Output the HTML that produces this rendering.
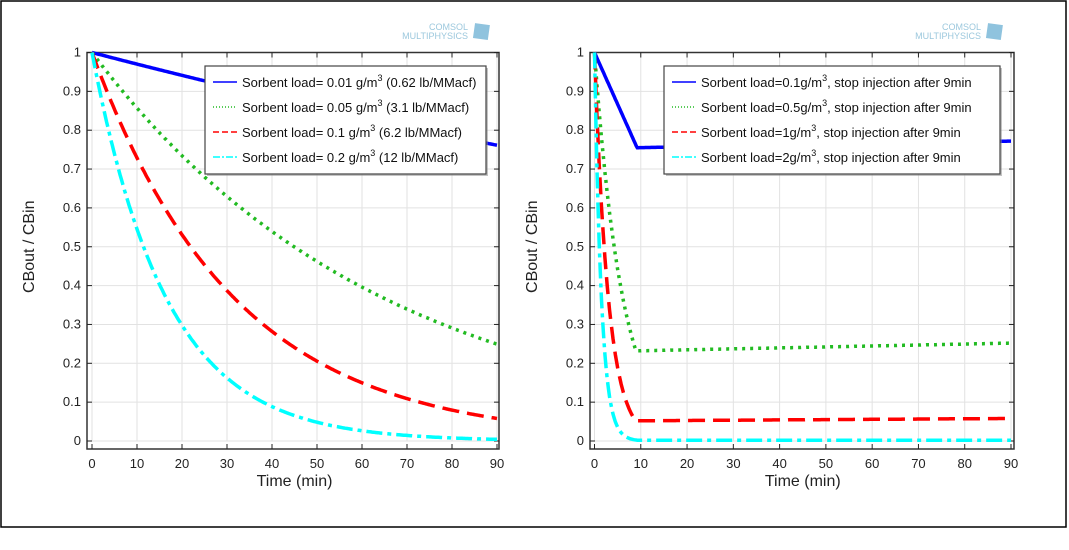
<!DOCTYPE html>
<html><head><meta charset="utf-8"><style>
html,body{margin:0;padding:0;background:#fff;}
svg{display:block;font-family:"Liberation Sans","DejaVu Sans",sans-serif;}
</style></head><body>
<svg id="s" width="1069" height="550" xmlns="http://www.w3.org/2000/svg">
<rect x="1" y="1" width="1065" height="526" fill="#fff" stroke="#000" stroke-width="1.5"/>
<g id="g"></g>
</svg>
<script>
var NS="http://www.w3.org/2000/svg",G=document.getElementById('g');
function el(t,a,txt){var e=document.createElementNS(NS,t);for(var k in a)e.setAttribute(k,a[k]);if(txt!==undefined)e.textContent=txt;G.appendChild(e);return e;}
var Y0=441,YS=388.5;
function plot(x0,x90,fL,fR,curves,leg,lx,lw){
  var sx=(x90-x0)/90;
  function X(t){return x0+t*sx;} function Y(v){return Y0-v*YS;}
  for(var i=0;i<=9;i++){el('line',{x1:X(i*10),x2:X(i*10),y1:Y(1),y2:Y0,stroke:'#e2e2e2','stroke-width':1});}
  for(var i=0;i<=10;i++){el('line',{x1:X(0)-4,x2:x90+3,y1:Y(i/10),y2:Y(i/10),stroke:'#e2e2e2','stroke-width':1});}
  el('rect',{x:fL,y:Y(1),width:fR-fL,height:Y0+8-Y(1),fill:'none',stroke:'#333','stroke-width':1.5});
  for(var i=0;i<=9;i++){var x=X(i*10);el('line',{x1:x,x2:x,y1:Y(1),y2:Y(1)+5,stroke:'#222'});el('line',{x1:x,x2:x,y1:Y0+8,y2:Y0+3,stroke:'#222'});
    el('text',{x:x,y:Y0+27,'font-size':13,'text-anchor':'middle',fill:'#222'},''+i*10);}
  for(var i=0;i<=10;i++){var y=Y(i/10);el('line',{x1:fL,x2:fL+5,y1:y,y2:y,stroke:'#222'});el('line',{x1:fR,x2:fR-5,y1:y,y2:y,stroke:'#222'});
    el('text',{x:fL-6,y:y+4,'font-size':13,'text-anchor':'end',fill:'#222'},i==0?'0':i==10?'1':(i/10).toFixed(1));}
  el('text',{x:(x0+x90)/2,y:Y0+45,'font-size':16,'text-anchor':'middle',fill:'#222'},'Time (min)');
  var cy=(Y(1)+Y0)/2;
  el('text',{x:0,y:0,'font-size':16,'text-anchor':'middle',fill:'#222',transform:'translate('+(fL-53)+','+cy+') rotate(-90)'},'CBout / CBin');
  curves.forEach(function(c){var d='';for(var t=0;t<=90;t+=0.25){d+=(t?'L':'M')+X(t).toFixed(1)+','+Y(c.f(t)).toFixed(1);}
    el('path',{d:d,fill:'none',stroke:c.col,'stroke-width':3.5,'stroke-dasharray':c.da||'none','stroke-linecap':'butt'});});
  el('rect',{x:lx+2,y:68,width:lw,height:108,fill:'#888',opacity:0.5});
  el('rect',{x:lx,y:66,width:lw,height:108,fill:'#fff',stroke:'#444','stroke-width':1.2});
  leg.forEach(function(s,i){var y=82+i*25;el('line',{x1:lx+8,x2:lx+32,y1:y,y2:y,stroke:curves[i].col,'stroke-width':1.5,'stroke-dasharray':curves[i].ld||'none'});
    var t=el('text',{x:lx+37,y:y+5,'font-size':13,fill:'#111'});t.innerHTML=s;});
}
var cols={b:'#0000ff',g:'#22bb22',r:'#ff0000',c:'#00ffff'};
plot(92,497,87,499,[
 {col:cols.b,f:function(t){return Math.exp(-t/330);}},
 {col:cols.g,f:function(t){return Math.exp(-t/64.8);},da:'3,5',ld:'1,2'},
 {col:cols.r,f:function(t){return Math.exp(-t/31.6);},da:'17,8',ld:'6,3'},
 {col:cols.c,f:function(t){return Math.exp(-t/16.5);},da:'16,5,4,5',ld:'7,2,2,2'}
],['Sorbent load= 0.01 g/m<tspan font-size="9" dy="-6">3</tspan><tspan dy="6"> (0.62 lb/MMacf)</tspan>',
 'Sorbent load= 0.05 g/m<tspan font-size="9" dy="-6">3</tspan><tspan dy="6"> (3.1 lb/MMacf)</tspan>',
 'Sorbent load= 0.1 g/m<tspan font-size="9" dy="-6">3</tspan><tspan dy="6">  (6.2 lb/MMacf)</tspan>',
 'Sorbent load= 0.2 g/m<tspan font-size="9" dy="-6">3</tspan><tspan dy="6">  (12 lb/MMacf)</tspan>'],205,281);
function inj(tau,t9,end,ts){ts=ts||9;return function(t){if(t<=ts)return Math.max(Math.exp(-t/tau),t9);return t9+(end-t9)*(t-ts)/(90-ts);};}
plot(594.5,1011,590,1014,[
 {col:cols.b,f:function(t){return t<=9.2?1-0.245*t/9.2:0.755+0.017*(t-9.2)/80.8;}},
 {col:cols.g,f:inj(6.13,0.232,0.252),da:'3,5',ld:'1,2'},
 {col:cols.r,f:inj(3.0,0.052,0.058),da:'17,8',ld:'6,3'},
 {col:cols.c,f:inj(1.5,0.002,0.002),da:'16,5,4,5',ld:'7,2,2,2'}
],['Sorbent load=0.1g/m<tspan font-size="9" dy="-6">3</tspan><tspan dy="6">,  stop injection after 9min</tspan>',
 'Sorbent load=0.5g/m<tspan font-size="9" dy="-6">3</tspan><tspan dy="6">,  stop injection after 9min</tspan>',
 'Sorbent load=1g/m<tspan font-size="9" dy="-6">3</tspan><tspan dy="6">,  stop injection after 9min</tspan>',
 'Sorbent load=2g/m<tspan font-size="9" dy="-6">3</tspan><tspan dy="6">,  stop injection after 9min</tspan>'],664,336);
[[420,470],[933,983]].forEach(function(p){
 el('text',{x:p[0]+48,y:30,'font-size':9,'text-anchor':'end',fill:'#9cc8dd'},'COMSOL');
 el('text',{x:p[0]+48,y:39,'font-size':9,'text-anchor':'end',fill:'#9cc8dd'},'MULTIPHYSICS');
 el('rect',{x:p[1]+4,y:24,width:15,height:15,fill:'#8fc3de',transform:'rotate(8 '+(p[1]+11)+' 31)'});
});
</script>
</body></html>
